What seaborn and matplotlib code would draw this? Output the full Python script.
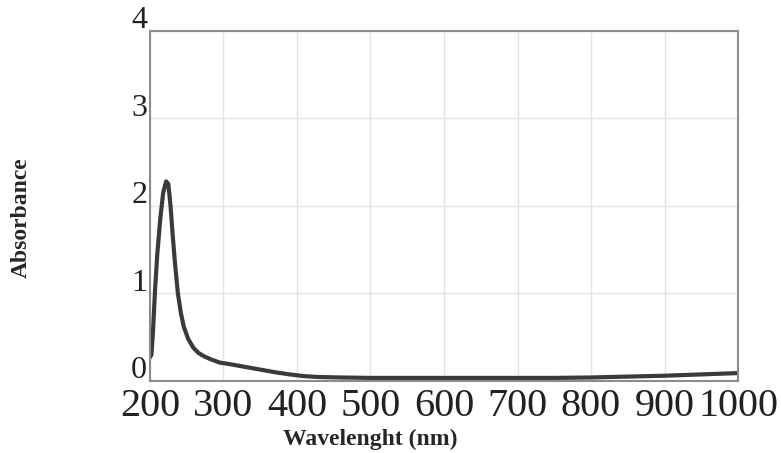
"""
plot.py
UV-Vis absorbance spectrum (200-1000 nm).
"""

import matplotlib
matplotlib.use("Agg")
import matplotlib.pyplot as plt
import matplotlib.transforms as mtransforms
import pandas as pd
import seaborn as sns

# ---------------------------------------------------------------------------
# Data
# ---------------------------------------------------------------------------
WAVELENGTH = [200, 202, 204, 207, 210, 214, 218, 222, 225, 228, 231, 234, 238,
              242, 246, 252, 259, 266, 274, 282, 295, 310, 330, 350, 370, 390,
              410, 430, 460, 500, 550, 600, 650, 700, 750, 800, 850, 900, 950,
              1000]
ABSORBANCE = [0.27, 0.30, 0.55, 1.05, 1.45, 1.85, 2.15, 2.28, 2.25, 2.00, 1.66,
              1.35, 1.00, 0.78, 0.62, 0.48, 0.38, 0.32, 0.28, 0.25, 0.21, 0.19,
              0.16, 0.13, 0.10, 0.075, 0.055, 0.045, 0.04, 0.035, 0.035, 0.035,
              0.035, 0.035, 0.035, 0.04, 0.05, 0.06, 0.075, 0.09]

X_TICKS = [200, 300, 400, 500, 600, 700, 800, 900, 1000]
Y_TICKS = [0, 1, 2, 3, 4]
X_LABEL = "Wavelenght (nm)"
Y_LABEL = "Absorbance"


def main():
    sns.set_style("whitegrid")
    plt.rcParams["font.family"] = ["Liberation Serif", "DejaVu Serif"]

    df = pd.DataFrame({"wl": WAVELENGTH, "abs": ABSORBANCE})

    fig = plt.figure(figsize=(7.81, 4.53), dpi=100)
    ax = fig.add_axes([0.192, 0.159, 0.753, 0.773])

    sns.lineplot(data=df, x="wl", y="abs", ax=ax, color="#3a3a3a", linewidth=3.0)

    ax.set_xlim(200, 1000)
    ax.set_ylim(0, 3.95)
    ax.set_xticks(X_TICKS)
    ax.set_yticks(Y_TICKS)
    ax.set_xticklabels([str(t) for t in X_TICKS], fontsize=29, color="#222222")
    ax.set_yticklabels([str(t) for t in Y_TICKS], fontsize=23, color="#222222",
                       va="baseline")
    ax.tick_params(axis="x", length=0, pad=5)
    ax.tick_params(axis="y", length=0, pad=2)

    # y labels sit just above their grid lines in the reference
    offset = mtransforms.ScaledTranslation(0, 2 / 72, fig.dpi_scale_trans)
    for lbl in ax.get_yticklabels():
        lbl.set_transform(lbl.get_transform() + offset)

    ax.grid(True, color="#e4e4e4", linewidth=1.0)
    for spine in ax.spines.values():
        spine.set_color("#8c8c8c")
        spine.set_linewidth(1.5)

    ax.set_xlabel(X_LABEL, fontsize=17, fontweight="bold", va="center")
    ax.xaxis.set_label_coords(0.374, -0.168)
    ax.set_ylabel(Y_LABEL, fontsize=17, fontweight="bold", va="center")
    ax.yaxis.set_label_coords(-0.218, 0.467)

    fig.savefig("out.png", dpi=100)
    plt.close(fig)


if __name__ == "__main__":
    main()
